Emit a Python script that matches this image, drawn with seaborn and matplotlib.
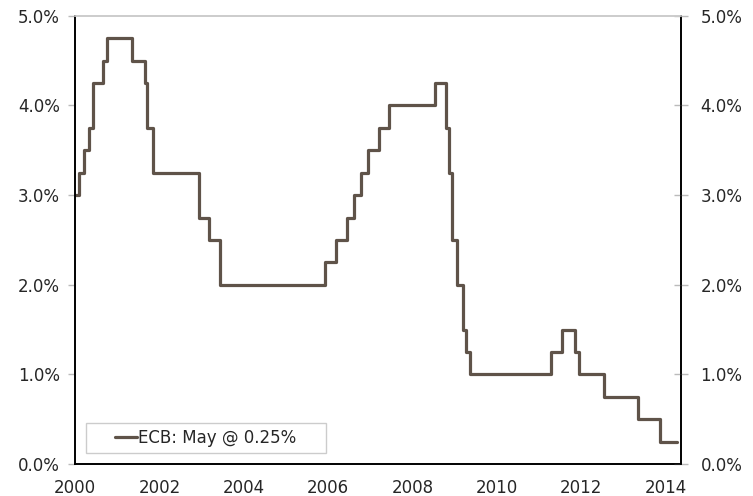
import matplotlib
matplotlib.use("Agg")
import matplotlib.pyplot as plt
from matplotlib.patches import Rectangle
import seaborn as sns
import pandas as pd
import numpy as np

# ECB main refinancing rate, change dates and new levels (%)
change_dates = ["2000-01-01", "2000-02-04", "2000-03-17", "2000-04-28", "2000-06-09",
                "2000-09-01", "2000-10-06", "2001-05-11", "2001-08-31", "2001-09-18",
                "2001-11-09", "2002-12-06", "2003-03-07", "2003-06-06", "2005-12-06",
                "2006-03-08", "2006-06-15", "2006-08-09", "2006-10-11", "2006-12-13",
                "2007-03-14", "2007-06-13", "2008-07-09", "2008-10-15", "2008-11-12",
                "2008-12-10", "2009-01-21", "2009-03-11", "2009-04-08", "2009-05-13",
                "2011-04-13", "2011-07-13", "2011-11-09", "2011-12-14", "2012-07-11",
                "2013-05-08", "2013-11-13", "2014-04-08"]
rates = [3.00, 3.25, 3.50, 3.75, 4.25, 4.50, 4.75, 4.50, 4.25, 3.75,
         3.25, 2.75, 2.50, 2.00, 2.25, 2.50, 2.75, 3.00, 3.25, 3.50,
         3.75, 4.00, 4.25, 3.75, 3.25, 2.50, 2.00, 1.50, 1.25, 1.00,
         1.25, 1.50, 1.25, 1.00, 0.75, 0.50, 0.25, 0.25]
series_label = "ECB: May @ 0.25%"
year_labels = list(range(2000, 2015, 2))
y_ticks = [0, 1, 2, 3, 4, 5]

d = pd.to_datetime(change_dates)
frac_year = d.year + (d.dayofyear - 1) / 365.25
df = pd.DataFrame({"year": frac_year, "rate": rates})

sns.set_style("white")
plt.rcParams["font.family"] = ["DejaVu Sans"]

fig = plt.figure(figsize=(7.53, 4.96), dpi=100)
ax = fig.add_axes([0.0996, 0.0645, 0.8048, 0.9035])

line_color = "#5f5349"
sns.lineplot(data=df, x="year", y="rate", drawstyle="steps-post", color=line_color,
             linewidth=2.3, ax=ax, label=series_label)

ax.set_xlim(2000, 2014.36)
ax.set_ylim(0, 5)
ax.set_xlabel("")
ax.set_ylabel("")
ax.set_xticks(year_labels)
ax.set_xticklabels([str(y) for y in year_labels], fontsize=12)
ax.set_xticks(np.arange(2001, 2015, 2), minor=True)
ax.set_yticks(y_ticks)
ax.set_yticklabels([f"{v:.1f}%" for v in y_ticks], fontsize=12)
ax.tick_params(axis="x", which="both", direction="out", length=5, color="#bbbbbb", width=1, pad=6)
ax.tick_params(axis="y", direction="out", length=5, color="#bbbbbb", width=1, pad=6)

ax2 = ax.twinx()
ax2.set_ylim(0, 5)
ax2.set_yticks(y_ticks)
ax2.set_yticklabels([f"{v:.1f}%" for v in y_ticks], fontsize=12)
ax2.tick_params(axis="y", direction="inout", length=10, color="#bbbbbb", width=1, pad=9)

for a in (ax, ax2):
    a.spines["left"].set_color("black")
    a.spines["right"].set_color("black")
    a.spines["bottom"].set_color("black")
    a.spines["top"].set_color("#cccccc")
    for s in a.spines.values():
        s.set_linewidth(1.2)

# legend box drawn as a plain rectangle, legend entry centred inside it
box_x0, box_x1 = 0.018, 0.414
box_y0, box_y1 = 0.0246, 0.0915
ax.add_patch(Rectangle((box_x0, box_y0), box_x1 - box_x0, box_y1 - box_y0,
                       transform=ax.transAxes, facecolor="white", edgecolor="#cccccc",
                       linewidth=1, zorder=4))
leg = ax.legend(loc="center", bbox_to_anchor=((box_x0 + box_x1) / 2, (box_y0 + box_y1) / 2),
                fontsize=12, frameon=False, handlelength=1.3, handletextpad=0.1,
                borderpad=0, borderaxespad=0)
leg.set_zorder(5)

fig.savefig("out.png", dpi=100)
